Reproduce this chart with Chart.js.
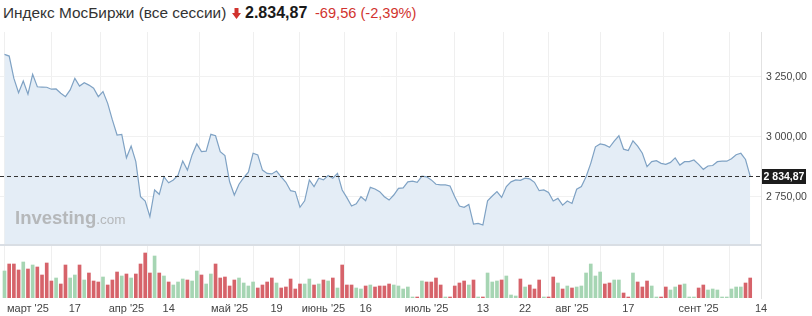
<!DOCTYPE html>
<html><head><meta charset="utf-8">
<script src="https://cdn.jsdelivr.net/npm/chart.js@4/dist/chart.umd.min.js"></script>
<style>
html,body{margin:0;padding:0;background:#fff;width:812px;height:316px;overflow:hidden;font-family:"Liberation Sans",Arial,sans-serif;}
#hdr{position:absolute;left:0;top:0;width:812px;height:30px;}
#hdr span{position:absolute;top:4px;white-space:nowrap;line-height:18px;}
#name{left:3px;font-size:15.4px;color:#333;}
#last{left:245px;font-size:16px;font-weight:bold;color:#1a1a1a;}
#chg{left:315px;font-size:14.6px;color:#d1332e;}
#arr{position:absolute;left:232px;top:8px;}
#wrap{position:absolute;left:0;top:30px;width:812px;height:286px;}
</style></head>
<body>
<div id="hdr">
<span id="name">Индекс МосБиржи (все сессии)</span>
<svg id="arr" width="9" height="11" viewBox="0 0 9 11"><polygon points="2.5,0 6.5,0 6.5,5 9,5 4.5,11 0,5 2.5,5" fill="#d1332e"/></svg>
<span id="last">2.834,87</span>
<span id="chg">-69,56 (-2,39%)</span>
</div>
<div id="wrap"><canvas id="c" width="812" height="286"></canvas></div>
<script>
// ---- data ----
const prices = [
3343,3336,3243,3183,3232,3177,3260,3208,3207,3206,
3198,3199,3181,3167,3195,3243,3211,3225,3215,3202,
3167,3188,3139,3070,3007,3010,2912,2961,2896,2750,
2732,2667,2778,2760,2833,2808,2820,2840,2899,2861,
2924,2970,2938,2940,3010,3004,2938,2921,2812,2757,
2802,2829,2852,2931,2924,2861,2847,2845,2857,2833,
2810,2775,2771,2706,2733,2820,2792,2827,2820,2838,
2827,2847,2778,2746,2711,2720,2750,2733,2789,2782,
2771,2750,2736,2757,2785,2787,2812,2815,2810,2836,
2833,2820,2802,2799,2799,2795,2750,2711,2706,2718,
2636,2639,2632,2733,2753,2771,2747,2792,2812,2820,
2818,2827,2824,2810,2775,2778,2768,2732,2743,2715,
2732,2722,2781,2792,2833,2889,2958,2970,2966,2956,
2982,3004,2948,2942,2983,2961,2931,2875,2896,2900,
2889,2885,2893,2912,2882,2896,2896,2903,2885,2864,
2878,2880,2896,2898,2898,2908,2925,2931,2905,2834.87];
const volumes = [
27,34,34,28,36,29,33,31,23,35,
17,20,14,33,20,23,33,18,25,17,
16,21,13,18,26,22,24,20,24,34,
45,25,42,25,22,16,13,16,19,18,
17,27,23,14,24,34,20,21,12,18,
20,15,12,16,10,13,16,20,15,10,
11,19,9,14,14,19,13,14,18,17,
20,10,33,13,13,10,9,12,13,11,
12,12,14,13,12,9,11,1,1,17,
16,16,20,13,1,1,12,15,17,13,
18,1,1,25,16,17,18,22,3,2,
19,11,13,9,18,1,1,21,15,9,
12,10,11,12,25,34,22,26,14,15,
18,18,5,1,25,16,11,17,12,1,
1,11,8,11,13,14,1,1,10,13,
8,9,8,1,1,9,11,11,15,20];
const tickIdx = [5,15,26,35,48,58,68,77,90,102,111,121,133,148,161.3];
const tickLabels = ["март '25","17","апр '25","14","май '25","19","июнь '25","16","июль '25","13","22","авг '25","17","сент '25","14"];
const priceTicks = [2750,3000,3250];
const lastPrice = 2834.87;
const fillBase = 2553;

// ---- helpers ----
function fmt(v){const s=v.toFixed(2).split('.');return s[0].replace(/\B(?=(\d{3})+(?!\d))/g,' ')+','+s[1];}
const priceData = prices.map((p,i)=>({x:i,y:p}));
const volData = volumes.map((v,i)=>({x:i,y:v}));
const volColors = prices.map((p,i)=> (i===0 ? true : p>=prices[i-1]) ? '#a6d5b3' : '#d6636a');

const deco = {
  id:'deco',
  afterDatasetsDraw(chart){
    const {ctx, chartArea:a, scales:{y}} = chart;
    ctx.save();
    const yb = y.getPixelForValue(fillBase);
    ctx.strokeStyle='#d9dee4'; ctx.lineWidth=2;
    ctx.beginPath(); ctx.moveTo(a.left, yb+1); ctx.lineTo(a.right, yb+1); ctx.stroke();
    // watermark
    ctx.fillStyle='rgba(165,165,165,0.75)';
    ctx.font='bold 18.5px "Liberation Sans", Arial, sans-serif';
    ctx.textBaseline='alphabetic';
    ctx.fillText('Investing', 15, 194);
    const w = ctx.measureText('Investing').width;
    ctx.font='13.5px "Liberation Sans", Arial, sans-serif';
    ctx.fillText('.com', 15+w, 194);
    // last price dashed line
    const yl = Math.round(y.getPixelForValue(lastPrice))+0.5;
    ctx.strokeStyle='#333'; ctx.lineWidth=1; ctx.setLineDash([4,3]);
    ctx.beginPath(); ctx.moveTo(a.left, yl); ctx.lineTo(a.right, yl); ctx.stroke();
    ctx.setLineDash([]);
    ctx.restore();
  },
  afterDraw(chart){
    const {ctx, chartArea:a, scales:{y}} = chart;
    const yl = Math.round(y.getPixelForValue(lastPrice))+0.5;
    ctx.save();
    ctx.fillStyle='#1c1c1c';
    ctx.fillRect(a.right+1, yl-7.5, 44, 15);
    ctx.fillStyle='#fff';
    ctx.font='bold 10.5px "Liberation Sans", Arial, sans-serif';
    ctx.textBaseline='middle'; ctx.textAlign='center';
    ctx.fillText(fmt(lastPrice), a.right+23, yl+0.5);
    ctx.restore();
  }
};

new Chart(document.getElementById('c'), {
  type:'bar',
  data:{datasets:[
    {type:'line', data:priceData, yAxisID:'y', borderColor:'#7fa2c4', borderWidth:1.2,
     backgroundColor:'#e4edf6', fill:{value:fillBase}, pointRadius:0, tension:0, order:1},
    {type:'bar', data:volData, yAxisID:'yv', backgroundColor:volColors, barThickness:3, order:2}
  ]},
  options:{
    responsive:false, animation:false, events:[],
    layout:{padding:{top:2,left:0,right:0,bottom:0}},
    plugins:{legend:{display:false}, tooltip:{enabled:false}},
    scales:{
      x:{type:'linear', min:-0.96, max:161.3, offset:false,
         afterBuildTicks(s){ s.ticks = tickIdx.map(v=>({value:v})); },
         afterFit(s){ s.height = 18; s.paddingLeft = 0; s.paddingRight = 0; },
         ticks:{autoSkip:false, maxRotation:0, padding:4, color:'#444',
                font:{family:'"Liberation Sans", Arial, sans-serif', size:11},
                callback(v){ const k=tickIdx.indexOf(v); return k>=0?tickLabels[k]:''; }},
         grid:{color:'#efefef', drawTicks:false}, border:{display:false}},
      y:{position:'right', min:2327.9, max:3436.3,
         afterBuildTicks(s){ s.ticks = priceTicks.map(v=>({value:v})); },
         afterFit(s){ s.width = 51; s.paddingTop = 0; s.paddingBottom = 0; },
         ticks:{padding:5, color:'#444', font:{family:'"Liberation Sans", Arial, sans-serif', size:10.5},
                callback(v){ return fmt(v); }},
         grid:{color:'#f1f1f1', drawTicks:false}, border:{display:true, color:'#e2e2e2'}},
      yv:{display:false, min:0, max:266}
    }
  },
  plugins:[deco]
});
</script>
</body></html>
